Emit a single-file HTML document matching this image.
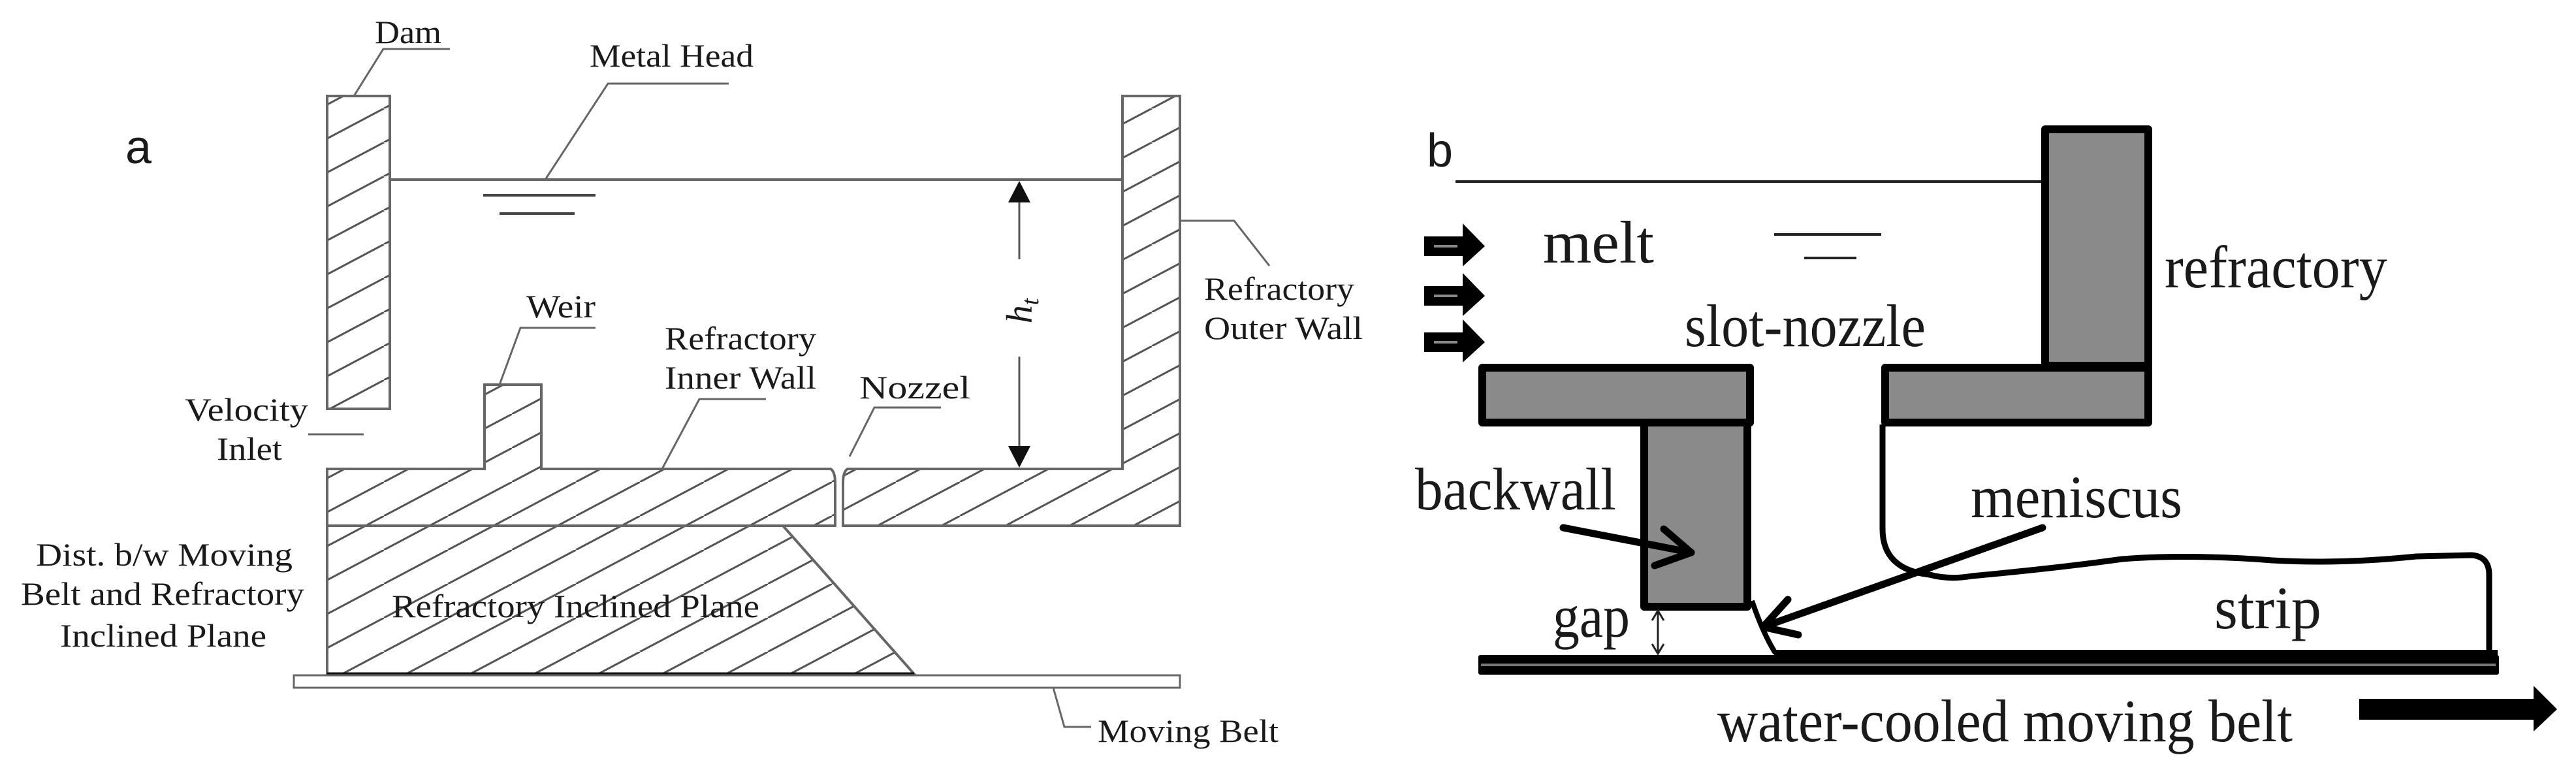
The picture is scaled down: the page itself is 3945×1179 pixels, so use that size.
<!DOCTYPE html>
<html><head><meta charset="utf-8"><style>
html,body{margin:0;padding:0;background:#fff;}
svg{display:block;}
text{font-family:"Liberation Serif",serif;fill:#1a1a1a;}
</style></head><body>
<svg width="3945" height="1179" viewBox="0 0 3945 1179" xmlns="http://www.w3.org/2000/svg">
<defs>
<pattern id="h" patternUnits="userSpaceOnUse" width="98" height="52" patternTransform="translate(0,10)">
<line x1="-98" y1="52" x2="0" y2="0" stroke="#555" stroke-width="3"/>
<line x1="0" y1="52" x2="98" y2="0" stroke="#555" stroke-width="3"/>
<line x1="98" y1="52" x2="196" y2="0" stroke="#555" stroke-width="3"/>
</pattern>
</defs>

<!-- ===== Panel a ===== -->
<text x="192" y="250" style="font-family:'Liberation Sans',sans-serif" font-size="72">a</text>

<g stroke="#666" stroke-width="4" fill="url(#h)">
<rect x="501" y="147" width="96" height="479"/>
<path d="M501 718 H742 V589 H829 V718 H1272 Q1279 722 1279 740 V805 H501 Z"/>
<path d="M1291 805 V740 Q1291 722 1298 718 H1719 V147 H1807 V805 Z"/>
<path d="M501 805 H1199 L1400 1032 H501 Z"/>
</g>
<line x1="501" y1="1032" x2="1400" y2="1032" stroke="#111" stroke-width="5"/>
<rect x="450" y="1034" width="1357" height="19" fill="#fff" stroke="#666" stroke-width="3"/>

<line x1="597" y1="275" x2="1719" y2="275" stroke="#666" stroke-width="4"/>
<line x1="740" y1="299" x2="912" y2="299" stroke="#444" stroke-width="4"/>
<line x1="765" y1="327" x2="880" y2="327" stroke="#444" stroke-width="4"/>

<line x1="1561" y1="300" x2="1561" y2="397" stroke="#555" stroke-width="3"/>
<line x1="1561" y1="546" x2="1561" y2="695" stroke="#555" stroke-width="3"/>
<polygon points="1561,277 1544,310 1578,310" fill="#111"/>
<polygon points="1561,716 1544,683 1578,683" fill="#111"/>
<text transform="translate(1580,476) rotate(-90)" font-size="56" font-style="italic" text-anchor="middle">h<tspan font-size="38" dy="10">t</tspan></text>

<g stroke="#666" stroke-width="3" fill="none">
<polyline points="542,147 587,75 689,75"/>
<polyline points="835,275 931,128 1116,128"/>
<polyline points="765,589 797,502 912,502"/>
<polyline points="1014,718 1071,611 1173,611"/>
<polyline points="1301,699 1339,624 1441,624"/>
<polyline points="1808,338 1890,338 1944,407"/>
<polyline points="1613,1053 1630,1113 1671,1113"/>
<line x1="472" y1="665" x2="557" y2="665"/>
</g>

<g font-size="50">
<text x="574" y="66" textLength="102" lengthAdjust="spacingAndGlyphs">Dam</text>
<text x="903" y="102" textLength="251" lengthAdjust="spacingAndGlyphs">Metal Head</text>
<text x="806" y="486" textLength="106" lengthAdjust="spacingAndGlyphs">Weir</text>
<text x="1018" y="535" textLength="232" lengthAdjust="spacingAndGlyphs">Refractory</text>
<text x="1018" y="595" textLength="232" lengthAdjust="spacingAndGlyphs">Inner Wall</text>
<text x="1316" y="610" textLength="170" lengthAdjust="spacingAndGlyphs">Nozzel</text>
<text x="1844" y="459" textLength="230" lengthAdjust="spacingAndGlyphs">Refractory</text>
<text x="1844" y="519" textLength="243" lengthAdjust="spacingAndGlyphs">Outer Wall</text>
<text x="283" y="644" textLength="189" lengthAdjust="spacingAndGlyphs">Velocity</text>
<text x="332" y="704" textLength="100" lengthAdjust="spacingAndGlyphs">Inlet</text>
<text x="55" y="866" textLength="393" lengthAdjust="spacingAndGlyphs">Dist. b/w Moving</text>
<text x="32" y="926" textLength="434" lengthAdjust="spacingAndGlyphs">Belt and Refractory</text>
<text x="92" y="990" textLength="316" lengthAdjust="spacingAndGlyphs">Inclined Plane</text>
<text x="600" y="945" textLength="563" lengthAdjust="spacingAndGlyphs">Refractory Inclined Plane</text>
<text x="1681" y="1136" textLength="277" lengthAdjust="spacingAndGlyphs">Moving Belt</text>
</g>

<!-- ===== Panel b ===== -->
<text x="2185" y="255" style="font-family:'Liberation Sans',sans-serif" font-size="72">b</text>
<line x1="2229" y1="278" x2="3126" y2="278" stroke="#222" stroke-width="4"/>
<line x1="2717" y1="359" x2="2881" y2="359" stroke="#222" stroke-width="4"/>
<line x1="2763" y1="395" x2="2843" y2="395" stroke="#222" stroke-width="4"/>

<g fill="#8a8a8a" stroke="#000" stroke-width="12" stroke-linejoin="round">
<rect x="3132" y="198" width="158" height="362"/>
<rect x="2887" y="563" width="403" height="84"/>
<rect x="2518" y="647" width="158" height="282"/>
<rect x="2270" y="563" width="410" height="84"/>
</g>

<g>
<path d="M2181 362 H2240 V342 L2274 377 L2240 408 V392 H2181 Z" fill="#000"/>
<line x1="2196" y1="377" x2="2232" y2="377" stroke="#888" stroke-width="4"/>
<path d="M2181 438 H2240 V418 L2274 453 L2240 484 V468 H2181 Z" fill="#000"/>
<line x1="2196" y1="453" x2="2232" y2="453" stroke="#888" stroke-width="4"/>
<path d="M2181 509 H2240 V489 L2274 524 L2240 555 V539 H2181 Z" fill="#000"/>
<line x1="2196" y1="524" x2="2232" y2="524" stroke="#888" stroke-width="4"/>
</g>

<rect x="2264" y="1003" width="1563" height="30" fill="#000" rx="3"/>
<line x1="2268" y1="1018" x2="3822" y2="1018" stroke="#777" stroke-width="4"/>
<rect x="2717" y="995" width="1108" height="10" fill="#000"/>

<path d="M2883 650 V810 Q2883 872 2955 880 Q2985 888 3020 882 Q3150 870 3250 856 Q3353 848 3480 858 Q3583 864 3700 852 L3785 850 Q3812 852 3812 880 L3812 1000" fill="none" stroke="#000" stroke-width="9"/>
<path d="M2683 920 Q2700 970 2719 1000" fill="none" stroke="#000" stroke-width="8"/>

<line x1="2539" y1="935" x2="2539" y2="1001" stroke="#222" stroke-width="3"/>
<polyline points="2530,950 2539,935 2548,950" fill="none" stroke="#222" stroke-width="3"/>
<polyline points="2530,986 2539,1001 2548,986" fill="none" stroke="#222" stroke-width="3"/>

<g stroke="#000" stroke-width="11" fill="none" stroke-linecap="round" stroke-linejoin="round">
<line x1="2394" y1="808" x2="2590" y2="846"/>
<polyline points="2548,810 2590,846 2534,866"/>
<line x1="3128" y1="808" x2="2700" y2="960"/>
<polyline points="2738,918 2700,960 2754,972"/>
</g>

<g font-size="92">
<text x="2363" y="402" textLength="170" lengthAdjust="spacingAndGlyphs">melt</text>
<text x="3315" y="440" textLength="341" lengthAdjust="spacingAndGlyphs">refractory</text>
<text x="2580" y="530" textLength="369" lengthAdjust="spacingAndGlyphs">slot-nozzle</text>
<text x="2167" y="780" textLength="308" lengthAdjust="spacingAndGlyphs">backwall</text>
<text x="3018" y="792" textLength="324" lengthAdjust="spacingAndGlyphs">meniscus</text>
<text x="3391" y="962" textLength="164" lengthAdjust="spacingAndGlyphs">strip</text>
<text x="2378" y="975" textLength="118" lengthAdjust="spacingAndGlyphs">gap</text>
<text x="2630" y="1135" textLength="881" lengthAdjust="spacingAndGlyphs">water-cooled moving belt</text>
</g>
<path d="M3613 1070 H3880 V1050 L3916 1086 L3880 1120 V1102 H3613 Z" fill="#000"/>
</svg>
</body></html>
